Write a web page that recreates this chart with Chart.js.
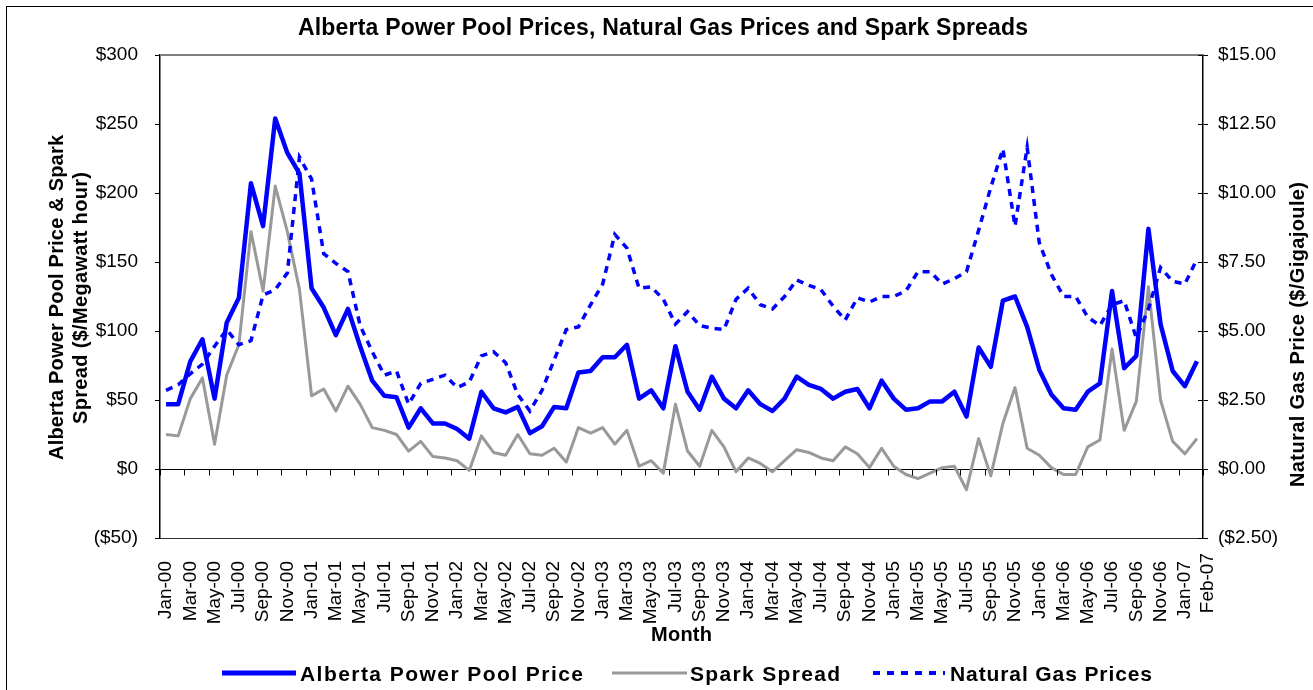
<!DOCTYPE html>
<html>
<head>
<meta charset="utf-8">
<script src="https://cdn.jsdelivr.net/npm/chart.js@4.4.1/dist/chart.umd.min.js"></script>
<style>
    html, body { margin: 0; padding: 0; background: #fff; }
    canvas { display: block; }
</style>
</head>
<body>
<canvas id="graficoPrecos" width="1313" height="690"></canvas>
<script>
// Meses de Jan-00 até Feb-07
const nomesMeses = ['Jan', 'Feb', 'Mar', 'Apr', 'May', 'Jun', 'Jul', 'Aug', 'Sep', 'Oct', 'Nov', 'Dec'];
const meses = [];
for (let ano = 0; ano <= 7; ano++) {
    for (let m = 0; m < 12; m++) {
        if (ano === 7 && m > 1) break;
        meses.push(nomesMeses[m] + '-0' + ano);
    }
}

// Preço do pool de energia ($/MWh)
const precoPool = [
    47, 47, 78, 94, 51, 106, 124, 207, 176, 254,
    229, 214, 131, 117, 97, 116, 89, 64, 53, 52,
    30, 44, 33, 33, 29, 22, 56, 44, 41, 45,
    26, 31, 45, 44, 70, 71, 81, 81, 90, 51,
    57, 44, 89, 56, 43, 67, 51, 44, 57, 47,
    42, 51, 67, 61, 58, 51, 56, 58, 44, 64,
    51, 43, 44, 49, 49, 56, 38, 88, 74, 122,
    125, 103, 72, 54, 44, 43, 56, 62, 129, 73,
    82, 174, 105, 71, 60, 78
];

// Spark spread ($/MWh)
const sparkSpread = [
    25, 24, 51, 66, 18, 68, 90, 172, 129, 205,
    172, 130, 53, 58, 42, 60, 47, 30, 28, 25,
    13, 20, 9, 8, 6, -1, 24, 12, 10, 25,
    11, 10, 15, 5, 30, 26, 30, 18, 28, 2,
    6, -3, 47, 13, 2, 28, 16, -2, 8, 4,
    -2, 6, 14, 12, 8, 6, 16, 11, 1, 15,
    2, -4, -7, -3, 1, 2, -15, 22, -5, 33,
    59, 15, 10, 1, -4, -4, 16, 21, 87, 28,
    49, 132, 50, 20, 11, 22
];

// Preço do gás natural ($/GJ)
const precoGas = [
    2.85, 3.05, 3.45, 3.8, 4.45, 5.05, 4.5, 4.65, 6.3, 6.5,
    7.1, 11.3, 10.5, 7.8, 7.45, 7.15, 5.2, 4.25, 3.4, 3.55,
    2.35, 3.1, 3.25, 3.4, 2.95, 3.15, 4.1, 4.25, 3.85, 2.7,
    2.1, 2.85, 3.95, 5.05, 5.15, 5.95, 6.7, 8.5, 8.0, 6.55,
    6.6, 6.15, 5.25, 5.7, 5.2, 5.1, 5.05, 6.15, 6.55, 5.95,
    5.8, 6.25, 6.85, 6.65, 6.5, 5.9, 5.4, 6.2, 6.05, 6.25,
    6.25, 6.45, 7.15, 7.15, 6.7, 6.9, 7.15, 8.65, 10.2, 11.6,
    8.8, 11.65, 8.2, 7.05, 6.25, 6.25, 5.5, 5.2, 5.95, 6.1,
    4.75, 5.8, 7.3, 6.8, 6.7, 7.6
];

// Marcas dos eixos
const ticksEsquerda = [-50, 0, 50, 100, 150, 200, 250, 300];
const ticksDireita = [-2.5, 0, 2.5, 5, 7.5, 10, 12.5, 15];

const fonte = 'Liberation Sans';

function formatoDolar(v, casas) {
    const txt = '$' + Math.abs(v).toFixed(casas);
    return v < 0 ? '(' + txt + ')' : txt;
}

// Escreve o texto esticando o espaçamento para ocupar a largura pedida
function textoAjustado(ctx, txt, x0, y, largura) {
    ctx.letterSpacing = '0px';
    const w = ctx.measureText(txt).width;
    const esp = Math.max(0, (largura - w) / (txt.length - 1));
    ctx.letterSpacing = esp + 'px';
    ctx.textAlign = 'left';
    ctx.fillText(txt, x0, y);
    ctx.letterSpacing = '0px';
}

// Desenha títulos, legenda e molduras à mão
const moldura = {
    id: 'moldura',
    afterDraw(chart) {
        const ctx = chart.ctx;
        const area = chart.chartArea;
        const x = chart.scales.x;
        const y = chart.scales.y;
        const y1 = chart.scales.y1;
        ctx.save();

        // borda externa
        ctx.strokeStyle = '#000';
        ctx.lineWidth = 1;
        ctx.strokeRect(6.5, 6.5, chart.width + 10, chart.height + 10);

        // linha superior da área do gráfico
        ctx.strokeStyle = '#808080';
        ctx.lineWidth = 2;
        ctx.beginPath();
        ctx.moveTo(area.left, area.top);
        ctx.lineTo(area.right, area.top);
        ctx.stroke();

        // marcas do eixo das categorias sobre o zero
        const zero = Math.round(y.getPixelForValue(0)) + 0.5;
        const meio = (x.getPixelForValue(1) - x.getPixelForValue(0)) / 2;
        ctx.strokeStyle = '#000';
        ctx.lineWidth = 1;
        ctx.beginPath();
        for (let i = 0; i <= meses.length; i += 2) {
            const px = Math.round(x.getPixelForValue(i) - meio) + 0.5;
            ctx.moveTo(px, zero);
            ctx.lineTo(px, zero + 6);
        }
        // marcas internas do eixo direito
        ticksDireita.forEach(v => {
            const py = Math.round(y1.getPixelForValue(v)) + 0.5;
            ctx.moveTo(area.right - 5, py);
            ctx.lineTo(area.right, py);
        });
        ctx.stroke();

        ctx.fillStyle = '#000';
        ctx.textBaseline = 'alphabetic';

        // último rótulo do eixo x, encostado no eixo direito
        ctx.save();
        ctx.font = '19px "' + fonte + '"';
        ctx.translate(area.right + 5, area.bottom + 15);
        ctx.rotate(-Math.PI / 2);
        ctx.textAlign = 'right';
        ctx.textBaseline = 'middle';
        ctx.fillText(meses[meses.length - 1], 0, 0);
        ctx.restore();

        // título
        ctx.font = 'bold 23px "' + fonte + '"';
        textoAjustado(ctx, 'Alberta Power Pool Prices, Natural Gas Prices and Spark Spreads', 298, 35, 730);

        // título do eixo x
        ctx.font = 'bold 20px "' + fonte + '"';
        textoAjustado(ctx, 'Month', 651, 641, 61);

        // título do eixo esquerdo (duas linhas)
        ctx.save();
        ctx.translate(0, 298);
        ctx.rotate(-Math.PI / 2);
        textoAjustado(ctx, 'Alberta Power Pool Price & Spark', -162, 63, 325);
        textoAjustado(ctx, 'Spread ($/Megawatt hour)', -126, 87, 252);
        ctx.restore();

        // título do eixo direito
        ctx.save();
        ctx.translate(0, 335);
        ctx.rotate(-Math.PI / 2);
        textoAjustado(ctx, 'Natural Gas Price ($/Gigajoule)', -152, 1304, 305);
        ctx.restore();

        // legenda
        const itens = [
            { texto: 'Alberta Power Pool Price', cor: '#0000ff', largura: 5, traco: [], x0: 222, x1: 296, xt: 300, lt: 283 },
            { texto: 'Spark Spread', cor: '#999999', largura: 3, traco: [], x0: 612, x1: 687, xt: 690, lt: 150 },
            { texto: 'Natural Gas Prices', cor: '#0000ff', largura: 4, traco: [7, 7], x0: 873, x1: 945, xt: 950, lt: 202 }
        ];
        const yLeg = 673;
        ctx.font = 'bold 21px "' + fonte + '"';
        itens.forEach(it => {
            ctx.strokeStyle = it.cor;
            ctx.lineWidth = it.largura;
            ctx.setLineDash(it.traco);
            ctx.beginPath();
            ctx.moveTo(it.x0, yLeg);
            ctx.lineTo(it.x1, yLeg);
            ctx.stroke();
            ctx.setLineDash([]);
            textoAjustado(ctx, it.texto, it.xt, yLeg + 8, it.lt);
        });

        ctx.restore();
    }
};

const canvas = document.getElementById('graficoPrecos');
if (canvas) {
    const ctx = canvas.getContext('2d');
    new Chart(ctx, {
        type: 'line',
        data: {
            labels: meses,
            datasets: [
                {
                    label: 'Alberta Power Pool Price',
                    data: precoPool,
                    yAxisID: 'y',
                    borderColor: '#0000ff',
                    borderWidth: 4.5,
                    borderJoinStyle: 'round',
                    pointRadius: 0,
                    tension: 0,
                    order: 1
                },
                {
                    label: 'Spark Spread',
                    data: sparkSpread,
                    yAxisID: 'y',
                    borderColor: '#999999',
                    borderWidth: 3,
                    borderJoinStyle: 'round',
                    pointRadius: 0,
                    tension: 0,
                    order: 3
                },
                {
                    label: 'Natural Gas Prices',
                    data: precoGas,
                    yAxisID: 'y1',
                    borderColor: '#0000ff',
                    borderWidth: 3.5,
                    borderDash: [7, 6],
                    pointRadius: 0,
                    tension: 0,
                    order: 2
                }
            ]
        },
        options: {
            responsive: false,
            animation: false,
            layout: { padding: { top: 55, left: 0, right: 0, bottom: 0 } },
            plugins: {
                legend: { display: false },
                title: { display: false },
                tooltip: { enabled: false }
            },
            scales: {
                x: {
                    type: 'category',
                    offset: true,
                    grid: { display: false, offset: true },
                    border: { display: true, color: '#333', width: 1 },
                    ticks: {
                        autoSkip: false,
                        maxRotation: 90,
                        minRotation: 90,
                        padding: 15,
                        color: '#000',
                        font: { family: fonte, size: 19 },
                        callback: (v, i) => (i % 2 === 0) ? meses[i] : null
                    },
                    afterFit: (s) => { s.height = 152; }
                },
                y: {
                    position: 'left',
                    min: -50,
                    max: 300,
                    afterBuildTicks: (s) => { s.ticks = ticksEsquerda.map(v => ({ value: v })); },
                    grid: {
                        drawOnChartArea: true,
                        color: (c) => (c.tick && c.tick.value === 0) ? '#000' : 'rgba(0,0,0,0)',
                        tickColor: '#000',
                        tickLength: 5
                    },
                    border: { display: true, color: '#000', width: 1.5 },
                    ticks: {
                        padding: 17,
                        color: '#000',
                        font: { family: fonte, size: 19 },
                        callback: (v) => formatoDolar(v, 0)
                    },
                    afterFit: (s) => { s.width = 160; }
                },
                y1: {
                    position: 'right',
                    min: -2.5,
                    max: 15,
                    afterBuildTicks: (s) => { s.ticks = ticksDireita.map(v => ({ value: v })); },
                    grid: { drawOnChartArea: false, tickColor: '#000', tickLength: 5 },
                    border: { display: true, color: '#000', width: 1.5 },
                    ticks: {
                        padding: 10,
                        color: '#000',
                        font: { family: fonte, size: 19 },
                        callback: (v) => formatoDolar(v, 2)
                    },
                    afterFit: (s) => { s.width = 110; }
                }
            }
        },
        plugins: [moldura]
    });
}
</script>
</body>
</html>
